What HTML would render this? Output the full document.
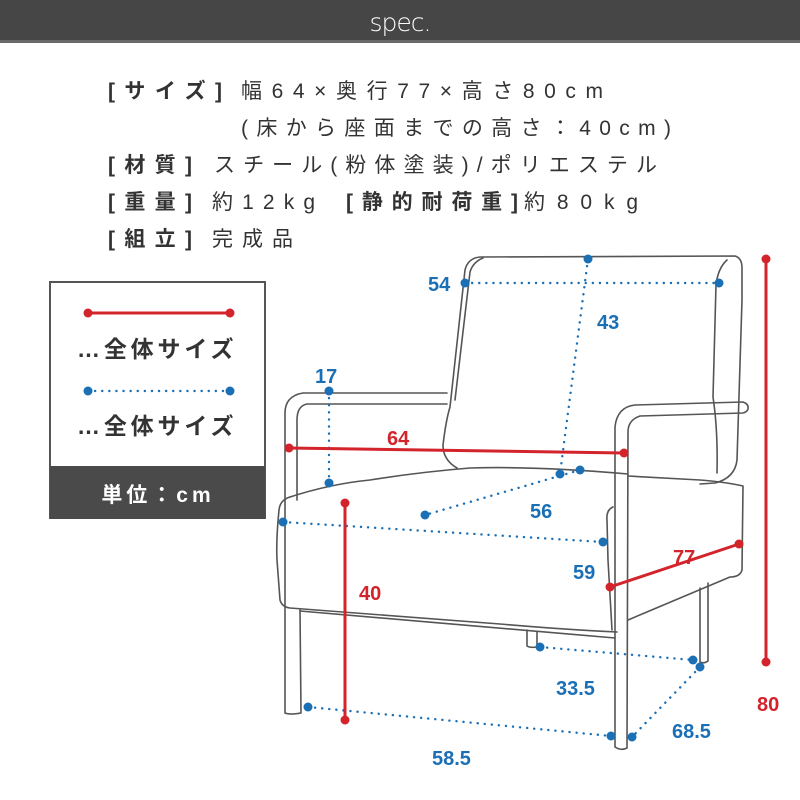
<!DOCTYPE html>
<html><head><meta charset="utf-8"><style>
html,body{margin:0;padding:0;background:#fff;width:800px;height:800px;overflow:hidden}
svg{display:block}
.s{font-family:"Liberation Sans","Noto Sans CJK JP",sans-serif;font-size:21px;fill:#333}
.b{font-weight:bold}
.dim{font-family:"Liberation Sans",sans-serif;font-weight:bold;font-size:20px}
.bl{fill:#1a6fb5}.rd{fill:#d3232b}
.ch{fill:none;stroke:#555;stroke-width:1.6;stroke-linejoin:round;stroke-linecap:round}
.bd{stroke:#1a6fb5;stroke-width:2.4;stroke-dasharray:0.1 7;stroke-linecap:round;fill:none}
.rl{stroke:#d3232b;stroke-width:3;fill:none}
.lg{font-family:'Liberation Sans','Noto Sans CJK JP',sans-serif;font-weight:bold;font-size:23px;fill:#333;letter-spacing:3.5px}
</style></head><body>
<svg width="800" height="800" viewBox="0 0 800 800" xmlns="http://www.w3.org/2000/svg">
<rect x="0" y="0" width="800" height="42" fill="#464646"/>
<rect x="0" y="40" width="800" height="3" fill="#6a6a6a"/>
<text x="400" y="31" text-anchor="middle" font-family="'DejaVu Sans','Liberation Sans',sans-serif" font-size="25" fill="#fff" font-weight="300" letter-spacing="-1">spec.</text>

<text class="s b" x="108" y="98" textLength="114" lengthAdjust="spacing">[サイズ]</text>
<text class="s" x="241" y="98" textLength="362" lengthAdjust="spacing">幅64×奥行77×高さ80cm</text>
<text class="s" x="241" y="135" textLength="430" lengthAdjust="spacing">(床から座面までの高さ：40cm)</text>
<text class="s b" x="108" y="172" textLength="84" lengthAdjust="spacing">[材質]</text>
<text class="s" x="214" y="172" textLength="443" lengthAdjust="spacing">スチール(粉体塗装)/ポリエステル</text>
<text class="s b" x="108" y="209" textLength="84" lengthAdjust="spacing">[重量]</text>
<text class="s" x="212" y="209" textLength="103" lengthAdjust="spacing">約12kg</text>
<text class="s b" x="346" y="209" textLength="172" lengthAdjust="spacing">[静的耐荷重]</text>
<text class="s" x="524" y="209" textLength="114" lengthAdjust="spacing">約80kg</text>
<text class="s b" x="108" y="246" textLength="84" lengthAdjust="spacing">[組立]</text>
<text class="s" x="212" y="246" textLength="81" lengthAdjust="spacing">完成品</text>

<!-- legend -->
<rect x="50" y="282" width="215" height="236" fill="#fff" stroke="#555" stroke-width="2"/>
<rect x="50" y="466" width="215" height="53" fill="#4a4a4a"/>
<line x1="88" y1="313" x2="230" y2="313" class="rl" stroke-width="2.4"/>
<circle cx="88" cy="313" r="4.5" class="rd"/><circle cx="230" cy="313" r="4.5" class="rd"/>
<text x="77" y="357" class="lg" textLength="160" lengthAdjust="spacing">…全体サイズ</text>
<line x1="88" y1="391" x2="230" y2="391" class="bd" stroke-width="1.8" stroke-dasharray="0.1 5"/>
<circle cx="88" cy="391" r="4.5" class="bl"/><circle cx="230" cy="391" r="4.5" class="bl"/>
<text x="77" y="434" class="lg" textLength="160" lengthAdjust="spacing">…全体サイズ</text>
<text x="158" y="502" text-anchor="middle" font-family="'Liberation Sans','Noto Sans CJK JP',sans-serif" font-weight="bold" font-size="21" fill="#fff" letter-spacing="4">単位：cm</text>

<!-- chair -->
<g class="ch">
<path d="M457,468 Q443,460 443,445 Q446,420 450,407 L465,270 Q468,258 480,257 L735,256 Q742,258 742,268 L742,300 L737,460 Q735,478 715,483 L700,484"/>
<path d="M483,258 Q473,262 470,272 L455,400"/>
<path d="M727,260 Q718,268 716,285 L713,397 Q718,430 717,473"/>
<path d="M447,393 L303,393 Q285,396 285,413 L285,713 Q290,715 301,713 L300,610"/>
<path d="M447,404 L307,404 Q297,406 297,420 L297,500"/>
<path d="M290,497 Q330,484 370,480 Q420,472 470,468 Q540,466 628,474"/>
<path d="M628,476 L700,480 Q725,482 743,486 L742,570 Q740,577 730,577 L628,620"/>
<path d="M290,497 Q280,500 279,510 Q276,540 277,560 L280,600 Q282,607 290,608 L500,624 Q570,630 617,632"/>
<path d="M613,507 Q606,510 607,520 L608,560 L612,630"/>
<path d="M300,611 L615,638"/>
<path d="M527,630 L527,646 Q530,648 537,647 L537,632"/>
<path d="M700,588 L700,662 Q704,664 708,661 L708,583"/>
<path d="M615,747 L615,427 Q617,407 635,405 L743,402 Q749,404 748,409 Q747,412 743,413 L640,416 Q628,420 628,432 L627,748 Q621,751 615,747"/>
</g>

<!-- dims -->
<line x1="465" y1="283" x2="719" y2="283" class="bd"/>
<circle cx="465" cy="283" r="4.5" class="bl"/><circle cx="719" cy="283" r="4.5" class="bl"/>
<text x="428" y="291" class="dim bl">54</text>
<line x1="588" y1="259" x2="560" y2="474" class="bd"/>
<circle cx="588" cy="259" r="4.5" class="bl"/><circle cx="560" cy="474" r="4.5" class="bl"/>
<text x="597" y="329" class="dim bl">43</text>
<line x1="329" y1="391" x2="329" y2="483" class="bd"/>
<circle cx="329" cy="391" r="4.5" class="bl"/><circle cx="329" cy="483" r="4.5" class="bl"/>
<text x="315" y="383" class="dim bl">17</text>
<line x1="580" y1="470" x2="425" y2="515" class="bd"/>
<circle cx="580" cy="470" r="4.5" class="bl"/><circle cx="425" cy="515" r="4.5" class="bl"/>
<text x="530" y="518" class="dim bl">56</text>
<line x1="283" y1="522" x2="603" y2="542" class="bd"/>
<circle cx="283" cy="522" r="4.5" class="bl"/><circle cx="603" cy="542" r="4.5" class="bl"/>
<text x="573" y="579" class="dim bl">59</text>
<line x1="540" y1="647" x2="693" y2="660" class="bd"/>
<circle cx="540" cy="647" r="4.5" class="bl"/><circle cx="693" cy="660" r="4.5" class="bl"/>
<text x="556" y="695" class="dim bl">33.5</text>
<line x1="700" y1="667" x2="632" y2="737" class="bd"/>
<circle cx="700" cy="667" r="4.5" class="bl"/><circle cx="632" cy="737" r="4.5" class="bl"/>
<text x="672" y="738" class="dim bl">68.5</text>
<line x1="308" y1="707" x2="611" y2="736" class="bd"/>
<circle cx="308" cy="707" r="4.5" class="bl"/><circle cx="611" cy="736" r="4.5" class="bl"/>
<text x="432" y="765" class="dim bl">58.5</text>

<line x1="289" y1="448" x2="624" y2="453" class="rl"/>
<circle cx="289" cy="448" r="4.5" class="rd"/><circle cx="624" cy="453" r="4.5" class="rd"/>
<text x="387" y="445" class="dim rd">64</text>
<line x1="345" y1="503" x2="345" y2="720" class="rl"/>
<circle cx="345" cy="503" r="4.5" class="rd"/><circle cx="345" cy="720" r="4.5" class="rd"/>
<text x="359" y="600" class="dim rd">40</text>
<line x1="610" y1="587" x2="739" y2="544" class="rl"/>
<circle cx="610" cy="587" r="4.5" class="rd"/><circle cx="739" cy="544" r="4.5" class="rd"/>
<text x="673" y="564" class="dim rd">77</text>
<line x1="766" y1="259" x2="766" y2="662" class="rl"/>
<circle cx="766" cy="259" r="4.5" class="rd"/><circle cx="766" cy="662" r="4.5" class="rd"/>
<text x="757" y="711" class="dim rd">80</text>
</svg>
</body></html>
